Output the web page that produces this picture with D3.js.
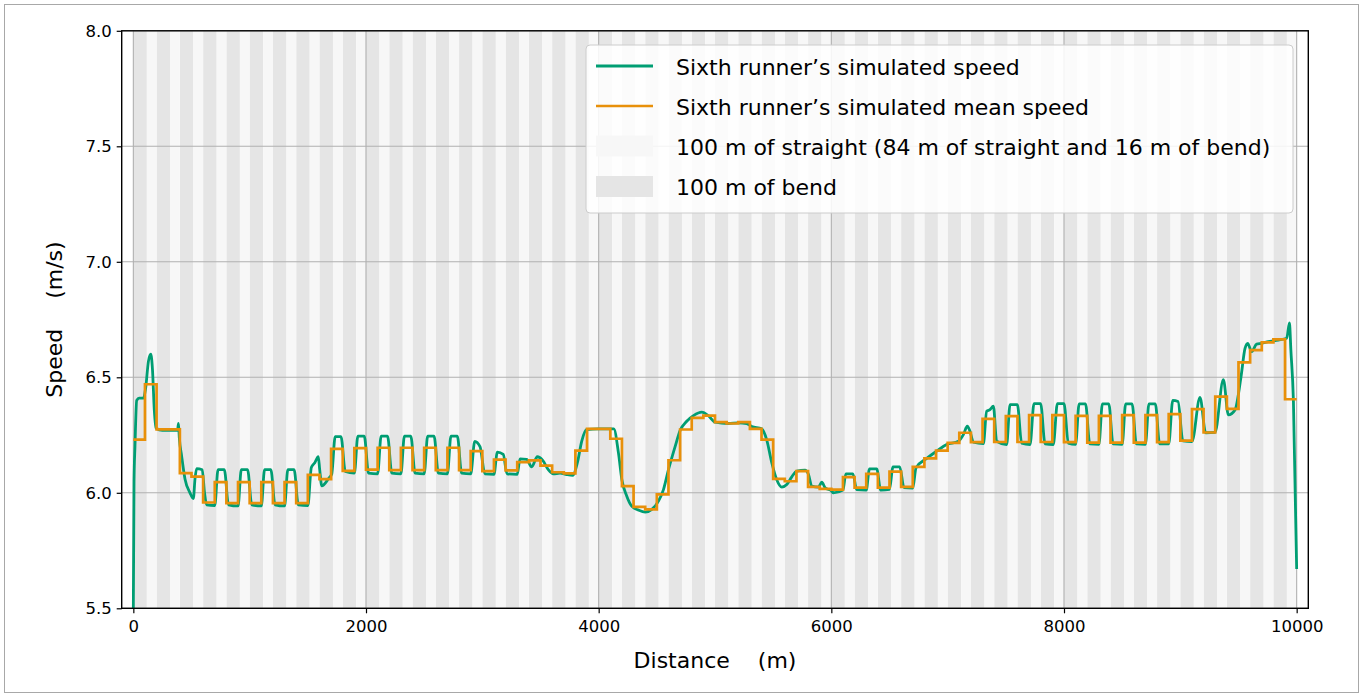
<!DOCTYPE html>
<html><head><meta charset="utf-8">
<script src="https://cdn.jsdelivr.net/npm/d3@7"></script>
<style>
body{margin:0;background:#fff}
svg text{font-family:"DejaVu Sans",sans-serif;fill:#000}
</style>
</head><body>
<svg id="chart" width="1363" height="697"></svg>
<script>
// ---------------- data ----------------
const xTicks = [0, 2000, 4000, 6000, 8000, 10000];
const yTicks = [5.5, 6.0, 6.5, 7.0, 7.5, 8.0];
const xLabel = ["Distance", "(m)"];
const yLabel = ["Speed", "(m/s)"];
const legendLabels = [
  "Sixth runner\u2019s simulated speed",
  "Sixth runner\u2019s simulated mean speed",
  "100 m of straight (84 m of straight and 16 m of bend)",
  "100 m of bend"
];
// track layout: each 200 m lap-half = bend part then straight part
const raceLength = 10000;
const sectionPeriod = 200;
const straightLength = 84;

// mean speed for each 100 m segment (m/s)
const segmentLength = 100;
const meanSpeed = [
  6.23, 6.47, 6.275, 6.275, 6.085, 6.07, 5.958, 6.046, 5.955, 6.046,
  5.955, 6.046, 5.955, 6.046, 5.955, 6.078, 6.059, 6.19, 6.095, 6.193,
  6.10, 6.195, 6.098, 6.195, 6.098, 6.195, 6.098, 6.195, 6.098, 6.18,
  6.094, 6.144, 6.097, 6.133, 6.14, 6.118, 6.089, 6.084, 6.183, 6.277,
  6.277, 6.234, 6.029, 5.939, 5.928, 5.993, 6.141, 6.274, 6.324, 6.334,
  6.306, 6.30, 6.306, 6.277, 6.23, 6.06, 6.05, 6.094, 6.026, 6.017,
  6.014, 6.068, 6.022, 6.082, 6.022, 6.092, 6.026, 6.112, 6.149, 6.183,
  6.216, 6.26, 6.219, 6.32, 6.22, 6.332, 6.22, 6.336, 6.22, 6.336,
  6.219, 6.333, 6.217, 6.333, 6.217, 6.336, 6.217, 6.336, 6.219, 6.341,
  6.226, 6.362, 6.261, 6.416, 6.363, 6.565, 6.618, 6.651, 6.664, 6.405
];

// simulated speed [distance (m), speed (m/s)]
const simulatedSpeed = [
  [0,5.50],[6,6.05],[14,6.20],[29,6.40],[50,6.41],[88,6.41],[105,6.45],[130,6.57],[150,6.60],[165,6.53],
  [180,6.36],[195,6.28],[250,6.27],[380,6.27],[388,6.30],[395,6.24],[415,6.16],[444,6.06],[487,6.00],[516,5.975],
  [530,6.06],[544,6.105],[592,6.10],[612,6.00],[630,5.948],[700,5.945],
  [728,6.10],[782,6.10],[818,5.948],[900,5.943],
  [928,6.10],[982,6.10],[1018,5.948],[1100,5.943],
  [1128,6.10],[1182,6.10],[1218,5.948],[1300,5.943],
  [1328,6.10],[1382,6.10],[1418,5.948],[1500,5.945],
  [1530,6.11],[1560,6.13],[1590,6.157],[1602,6.10],[1620,6.03],[1680,6.063],[1705,6.08],[1735,6.243],
  [1785,6.243],[1822,6.092],[1900,6.085],
  [1930,6.245],[1985,6.245],[2022,6.085],[2100,6.082],
  [2130,6.245],[2185,6.245],[2222,6.085],[2300,6.082],
  [2330,6.245],[2385,6.245],[2422,6.085],[2500,6.082],
  [2530,6.245],[2585,6.245],[2622,6.085],[2700,6.082],
  [2730,6.245],[2785,6.245],[2822,6.085],[2900,6.082],
  [2935,6.223],[2980,6.20],[3022,6.082],[3100,6.08],
  [3129,6.176],[3180,6.166],[3212,6.082],[3300,6.08],
  [3324,6.147],[3381,6.145],[3424,6.112],[3473,6.156],[3519,6.14],[3567,6.10],[3610,6.082],[3668,6.085],
  [3725,6.079],[3777,6.076],[3817,6.13],[3854,6.223],[3897,6.274],[4000,6.277],
  [4130,6.277],[4170,6.173],[4199,6.058],[4241,5.986],[4284,5.942],[4342,5.925],[4400,5.916],[4457,5.928],
  [4514,5.964],[4557,6.014],[4600,6.10],[4657,6.20],[4700,6.27],[4757,6.31],[4815,6.334],[4886,6.349],
  [4943,6.334],[5000,6.306],[5115,6.30],[5201,6.303],[5273,6.30],[5316,6.287],[5401,6.277],[5444,6.23],
  [5488,6.13],[5530,6.058],[5574,6.025],[5617,6.036],[5660,6.069],[5703,6.094],[5774,6.098],[5803,6.08],
  [5832,6.029],[5889,6.025],[5918,6.046],[5946,6.022],[6004,6.007],[6017,6.0],
  [6100,6.012],[6125,6.082],[6185,6.082],[6218,6.014],[6300,6.012],
  [6328,6.104],[6390,6.104],[6424,6.012],[6500,6.015],
  [6530,6.112],[6588,6.112],[6625,6.022],[6700,6.02],
  [6728,6.108],[6820,6.149],[6905,6.18],[6991,6.209],[7092,6.223],[7135,6.252],[7169,6.288],[7192,6.266],
  [7221,6.219],[7307,6.213],[7335,6.353],[7364,6.36],[7393,6.375],[7421,6.223],[7507,6.209],
  [7536,6.382],[7599,6.382],[7636,6.215],[7708,6.209],
  [7742,6.386],[7799,6.386],[7837,6.212],[7908,6.209],
  [7943,6.386],[8000,6.386],[8037,6.215],[8100,6.21],
  [8130,6.385],[8185,6.385],[8222,6.212],[8300,6.21],
  [8330,6.385],[8385,6.385],[8422,6.212],[8500,6.21],
  [8530,6.385],[8585,6.385],[8622,6.212],[8700,6.21],
  [8730,6.385],[8785,6.385],[8822,6.212],[8900,6.212],
  [8935,6.40],[8980,6.395],[9022,6.225],[9100,6.222],
  [9169,6.413],[9218,6.26],[9298,6.262],[9370,6.49],[9413,6.337],[9470,6.359],[9521,6.50],[9556,6.625],
  [9579,6.647],[9613,6.611],[9656,6.644],[9699,6.647],[9756,6.654],[9842,6.661],[9914,6.669],[9938,6.735],
  [9950,6.62],[9972,6.40],[10000,5.67]
];

// ---------------- drawing ----------------
const colors = {speed: "#009E73", mean: "#E8900A", straight: "#f7f7f7", bend: "#e5e5e5", grid: "#b0b0b0"};
const svg = d3.select("#chart");
const W = 1363, H = 697;
const plot = {left: 121.7, right: 1308.3, top: 30.8, bottom: 608.3};

const x = d3.scaleLinear().domain([-100, 10100]).range([plot.left, plot.right]);
const y = d3.scaleLinear().domain([5.5, 8.0]).range([plot.bottom, plot.top]);

// outer frame
svg.append("rect").attr("x", 4.5).attr("y", 4.5).attr("width", W - 9).attr("height", H - 9)
  .attr("fill", "#fff").attr("stroke", "#a8a8a8").attr("stroke-width", 1);

const g = svg.append("g");

// background bands
const periods = d3.range(0, raceLength, sectionPeriod);
g.selectAll("rect.bend").data(periods).join("rect").attr("class", "bend")
  .attr("x", d => x(d)).attr("y", plot.top)
  .attr("width", d => x(d + sectionPeriod - straightLength) - x(d))
  .attr("height", plot.bottom - plot.top).attr("fill", colors.bend);
g.selectAll("rect.straight").data(periods).join("rect").attr("class", "straight")
  .attr("x", d => x(d + sectionPeriod - straightLength)).attr("y", plot.top)
  .attr("width", d => x(d + sectionPeriod) - x(d + sectionPeriod - straightLength))
  .attr("height", plot.bottom - plot.top).attr("fill", colors.straight);

// grid
g.selectAll("line.gx").data(xTicks).join("line").attr("class", "gx")
  .attr("x1", d => x(d)).attr("x2", d => x(d)).attr("y1", plot.top).attr("y2", plot.bottom)
  .attr("stroke", colors.grid).attr("stroke-width", 1.1);
g.selectAll("line.gy").data(yTicks).join("line").attr("class", "gy")
  .attr("y1", d => y(d)).attr("y2", d => y(d)).attr("x1", plot.left).attr("x2", plot.right)
  .attr("stroke", colors.grid).attr("stroke-width", 1.1);

// lines
const clip = svg.append("clipPath").attr("id", "clip").append("rect")
  .attr("x", plot.left).attr("y", plot.top).attr("width", plot.right - plot.left).attr("height", plot.bottom - plot.top);

const speedLine = d3.line().x(d => x(d[0])).y(d => y(d[1])).curve(d3.curveMonotoneX);
g.append("path").datum(simulatedSpeed).attr("d", speedLine)
  .attr("fill", "none").attr("stroke", colors.speed).attr("stroke-width", 2.8)
  .attr("stroke-linejoin", "round").attr("clip-path", "url(#clip)");

const meanPoints = meanSpeed.map((v, i) => [i * segmentLength, v]);
meanPoints.push([meanSpeed.length * segmentLength, meanSpeed[meanSpeed.length - 1]]);
const meanLine = d3.line().x(d => x(d[0])).y(d => y(d[1])).curve(d3.curveStepAfter);
g.append("path").datum(meanPoints).attr("d", meanLine)
  .attr("fill", "none").attr("stroke", colors.mean).attr("stroke-width", 2.7)
  .attr("stroke-linejoin", "miter").attr("clip-path", "url(#clip)");

// axes
const xAxis = d3.axisBottom(x).tickValues(xTicks).tickFormat(d3.format("d")).tickSize(5).tickPadding(5);
const yAxis = d3.axisLeft(y).tickValues(yTicks).tickFormat(d3.format(".1f")).tickSize(5).tickPadding(5);
const gx = svg.append("g").attr("transform", `translate(0,${plot.bottom})`).call(xAxis);
const gy = svg.append("g").attr("transform", `translate(${plot.left},0)`).call(yAxis);
[gx, gy].forEach(a => {
  a.select(".domain").remove();
  a.selectAll(".tick line").attr("stroke", "#000").attr("stroke-width", 1.2);
  a.selectAll(".tick text").style("font-size", "16.5px").style("font-family", "'DejaVu Sans',sans-serif").attr("fill", "#000");
});
gx.selectAll(".tick text").attr("dy", "0.85em");

// spines
svg.append("rect").attr("x", plot.left).attr("y", plot.top)
  .attr("width", plot.right - plot.left).attr("height", plot.bottom - plot.top)
  .attr("fill", "none").attr("stroke", "#000").attr("stroke-width", 1.4);

// axis labels
const xl = svg.append("text").attr("x", (plot.left + plot.right) / 2).attr("y", 668)
  .attr("text-anchor", "middle").style("font-size", "22px");
xl.append("tspan").text(xLabel[0]);
xl.append("tspan").attr("dx", 28).text(xLabel[1]);

const yl = svg.append("text").attr("transform", `translate(62,${(plot.top + plot.bottom) / 2}) rotate(-90)`)
  .attr("text-anchor", "middle").style("font-size", "22px");
yl.append("tspan").text(yLabel[0]);
yl.append("tspan").attr("dx", 30).text(yLabel[1]);

// legend
const lg = svg.append("g");
lg.append("rect").attr("x", 586).attr("y", 45).attr("width", 707).attr("height", 168)
  .attr("rx", 4).attr("fill", "#fff").attr("fill-opacity", 0.85).attr("stroke", "#cccccc").attr("stroke-width", 1);
const rowY = [66, 106, 146, 186.5];
const handleX0 = 596, handleX1 = 653, textX = 676;
lg.append("line").attr("x1", handleX0).attr("x2", handleX1).attr("y1", rowY[0]).attr("y2", rowY[0])
  .attr("stroke", colors.speed).attr("stroke-width", 2.8);
lg.append("line").attr("x1", handleX0).attr("x2", handleX1).attr("y1", rowY[1]).attr("y2", rowY[1])
  .attr("stroke", colors.mean).attr("stroke-width", 2.7);
lg.append("rect").attr("x", handleX0).attr("y", rowY[2] - 10.5).attr("width", handleX1 - handleX0).attr("height", 21)
  .attr("fill", colors.straight);
lg.append("rect").attr("x", handleX0).attr("y", rowY[3] - 10.5).attr("width", handleX1 - handleX0).attr("height", 21)
  .attr("fill", colors.bend);
lg.selectAll("text.lt").data(legendLabels).join("text").attr("class", "lt")
  .attr("x", textX).attr("y", (d, i) => rowY[i] + 8.5).style("font-size", "22px").text(d => d);
</script>
</body></html>
